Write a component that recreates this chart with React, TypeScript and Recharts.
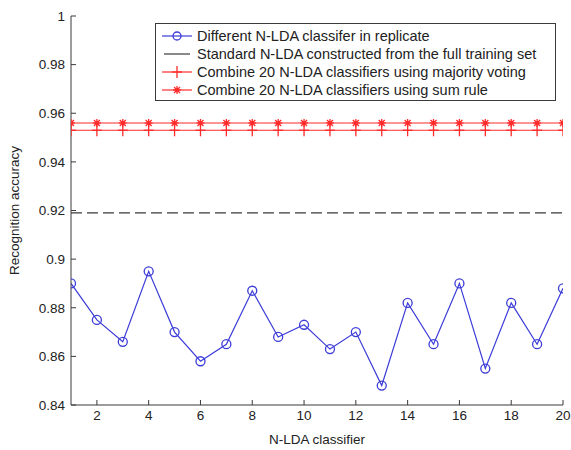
import React from 'react';
import { LineChart, Line, XAxis, YAxis } from 'recharts';

const classifiers = [1, 2, 3, 4, 5, 6, 7, 8, 9, 10, 11, 12, 13, 14, 15, 16, 17, 18, 19, 20];
const replicateAccuracy = [0.890, 0.875, 0.866, 0.895, 0.870, 0.858, 0.865, 0.887, 0.868, 0.873, 0.863, 0.870, 0.848, 0.882, 0.865, 0.890, 0.855, 0.882, 0.865, 0.888];
const standardAccuracy = [0.919, 0.919, 0.919, 0.919, 0.919, 0.919, 0.919, 0.919, 0.919, 0.919, 0.919, 0.919, 0.919, 0.919, 0.919, 0.919, 0.919, 0.919, 0.919, 0.919];
const majorityVotingAccuracy = [0.953, 0.953, 0.953, 0.953, 0.953, 0.953, 0.953, 0.953, 0.953, 0.953, 0.953, 0.953, 0.953, 0.953, 0.953, 0.953, 0.953, 0.953, 0.953, 0.953];
const sumRuleAccuracy = [0.956, 0.956, 0.956, 0.956, 0.956, 0.956, 0.956, 0.956, 0.956, 0.956, 0.956, 0.956, 0.956, 0.956, 0.956, 0.956, 0.956, 0.956, 0.956, 0.956];
const xTicks = [2, 4, 6, 8, 10, 12, 14, 16, 18, 20];
const yTicks = [0.84, 0.86, 0.88, 0.9, 0.92, 0.94, 0.96, 0.98, 1];
const legendLabels = [
  'Different N-LDA classifer in replicate',
  'Standard N-LDA constructed from the full training set',
  'Combine 20 N-LDA classifiers using majority voting',
  'Combine 20 N-LDA classifiers using sum rule',
];
const xLabel = 'N-LDA classifier';
const yLabel = 'Recognition accuracy';

const data = classifiers.map((c, i) => ({
  x: c,
  replicate: replicateAccuracy[i],
  standard: standardAccuracy[i],
  majority: majorityVotingAccuracy[i],
  sum: sumRuleAccuracy[i],
}));

const BLUE = '#3c3cd8';
const RED = '#ff2a2a';
const AXIS = '#3a3a3a';
const FONT = '"Liberation Sans", Arial, Helvetica, sans-serif';

const fmt = (v: number) => String(parseFloat(v.toFixed(2)));

const CircleDot = (p: any) => (
  <circle key={`c${p.index}`} cx={p.cx} cy={p.cy} r={4.5} fill="none" stroke={BLUE} strokeWidth={1.3} />
);
const PlusDot = (p: any) => (
  <g key={`p${p.index}`} stroke={RED} strokeWidth={1.3}>
    <line x1={p.cx} y1={p.cy - 6} x2={p.cx} y2={p.cy + 6} />
    <line x1={p.cx - 5} y1={p.cy} x2={p.cx + 5} y2={p.cy} />
  </g>
);
const StarDot = (p: any) => (
  <g key={`s${p.index}`} stroke={RED} strokeWidth={1.3}>
    <line x1={p.cx} y1={p.cy - 4} x2={p.cx} y2={p.cy + 4} />
    <line x1={p.cx - 4} y1={p.cy} x2={p.cx + 4} y2={p.cy} />
    <line x1={p.cx - 3} y1={p.cy - 3} x2={p.cx + 3} y2={p.cy + 3} />
    <line x1={p.cx - 3} y1={p.cy + 3} x2={p.cx + 3} y2={p.cy - 3} />
    <circle cx={p.cx} cy={p.cy} r={2} fill={RED} stroke="none" />
  </g>
);

const LegendIcon = ({ kind }: { kind: number }) => {
  const cx = 21;
  const cy = 8;
  return (
    <svg width={38} height={16} style={{ display: 'block' }}>
      {kind === 0 && (
        <g>
          <line x1={6} y1={cy} x2={36} y2={cy} stroke={BLUE} strokeWidth={1.2} />
          <circle cx={cx} cy={cy} r={4} fill="none" stroke={BLUE} strokeWidth={1.3} />
        </g>
      )}
      {kind === 1 && <line x1={8} y1={cy} x2={34} y2={cy} stroke={AXIS} strokeWidth={1.2} />}
      {kind === 2 && <PlusDot cx={cx} cy={cy} index={0} />}
      {kind === 2 && <line x1={6} y1={cy} x2={36} y2={cy} stroke={RED} strokeWidth={1.2} />}
      {kind === 3 && <line x1={6} y1={cy} x2={36} y2={cy} stroke={RED} strokeWidth={1.2} />}
      {kind === 3 && <StarDot cx={cx} cy={cy} index={0} />}
    </svg>
  );
};

export default function App() {
  return (
    <div style={{ position: 'absolute', left: 0, top: 0, width: 571, height: 450, background: '#fff', fontFamily: FONT }}>
      <LineChart width={571} height={450} data={data} margin={{ top: 16, right: 8, left: 0, bottom: 0 }}>
        <XAxis
          dataKey="x"
          type="number"
          domain={[1, 20]}
          ticks={xTicks}
          allowDataOverflow
          height={45}
          tickSize={-5}
          tickMargin={10}
          stroke={AXIS}
          tick={{ fill: '#222', fontSize: 13.5, fontFamily: FONT }}
          label={{ value: xLabel, position: 'insideBottom', offset: 6, fill: '#222', fontSize: 13.5, fontFamily: FONT }}
        />
        <XAxis
          xAxisId="top"
          dataKey="x"
          type="number"
          orientation="top"
          domain={[1, 20]}
          ticks={xTicks}
          height={0}
          tickSize={-5}
          tick={false}
          stroke={AXIS}
        />
        <YAxis
          type="number"
          domain={[0.84, 1]}
          ticks={yTicks}
          allowDataOverflow
          width={71}
          tickSize={-5}
          tickMargin={11}
          tickFormatter={fmt}
          stroke={AXIS}
          tick={{ fill: '#222', fontSize: 13.5, fontFamily: FONT }}
          label={{ value: yLabel, angle: -90, position: 'insideLeft', offset: 14, fill: '#222', fontSize: 13.5, fontFamily: FONT, style: { textAnchor: 'middle' } }}
        />
        <YAxis
          yAxisId="right"
          orientation="right"
          type="number"
          domain={[0.84, 1]}
          ticks={yTicks}
          width={0}
          tickSize={-5}
          tick={false}
          stroke={AXIS}
        />
        <Line dataKey="standard" stroke={AXIS} strokeWidth={1.3} strokeDasharray="11 5" dot={false} isAnimationActive={false} />
        <Line dataKey="majority" stroke={RED} strokeWidth={1.2} dot={PlusDot} isAnimationActive={false} />
        <Line dataKey="sum" stroke={RED} strokeWidth={1.2} dot={StarDot} isAnimationActive={false} />
        <Line dataKey="replicate" stroke={BLUE} strokeWidth={1.2} dot={CircleDot} isAnimationActive={false} />
      </LineChart>
      <div
        style={{
          position: 'absolute',
          left: 155,
          top: 23,
          width: 401,
          height: 78,
          border: `1px solid ${AXIS}`,
          background: '#fff',
          boxSizing: 'border-box',
          padding: '3px 0 0 0',
        }}
      >
        {legendLabels.map((t, i) => (
          <div key={t} style={{ display: 'flex', alignItems: 'center', height: 18 }}>
            <LegendIcon kind={i} />
            <span style={{ fontSize: 14.5, color: '#222', marginLeft: 3, whiteSpace: 'nowrap' }}>{t}</span>
          </div>
        ))}
      </div>
    </div>
  );
}
